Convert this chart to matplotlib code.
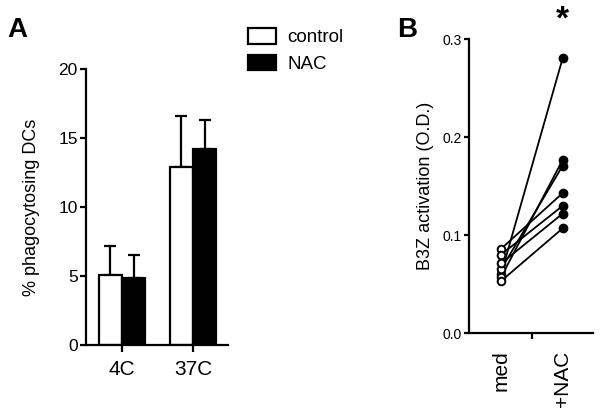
import matplotlib
matplotlib.use('Agg')
import matplotlib.pyplot as plt
from matplotlib.patches import Patch

plt.rcParams['font.family'] = ['Liberation Sans', 'DejaVu Sans']

# panel A
groups = ['4C', '37C']
control = [5.07, 12.92]
control_err = [2.1, 3.65]
nac = [4.83, 14.2]
nac_err = [1.72, 2.08]

# panel B
med = [0.060, 0.057, 0.065, 0.086, 0.080, 0.071, 0.053]
plus_nac = [0.281, 0.177, 0.171, 0.143, 0.130, 0.122, 0.107]
b_labels = ['med', '+NAC']

W, H = 602, 415
fig = plt.figure(figsize=(W / 100, H / 100), dpi=100)
fig.patch.set_facecolor('white')


def px_axes(left, top, right, bottom):
    return fig.add_axes([left / W, 1 - bottom / H, (right - left) / W, (bottom - top) / H])


def style(ax, lw=1.6):
    for s in ['top', 'right']:
        ax.spines[s].set_visible(False)
    for s in ['left', 'bottom']:
        ax.spines[s].set_linewidth(lw)
    ax.tick_params(width=lw, direction='out')


# ---- A ----
axA = px_axes(86, 69, 228, 345)
style(axA)
x = [0, 1]
w = 0.33
xc = [i - w / 2 for i in x]
xn = [i + w / 2 for i in x]
axA.errorbar(xc, control, yerr=[[0, 0], control_err], fmt='none', ecolor='black',
             elinewidth=1.6, capsize=4, capthick=1.6, zorder=1)
axA.errorbar(xn, nac, yerr=[[0, 0], nac_err], fmt='none', ecolor='black',
             elinewidth=1.6, capsize=4, capthick=1.6, zorder=1)
axA.bar(xc, control, width=w, color='white', edgecolor='black', linewidth=1.6, zorder=2)
axA.bar(xn, nac, width=w, color='black', edgecolor='black', linewidth=1.6, zorder=2)
axA.set_xlim(-0.507, 1.493)
axA.set_ylim(0, 20)
axA.set_yticks([0, 5, 10, 15, 20])
axA.set_xticks(x)
axA.set_xticklabels(groups, fontsize=15)
axA.tick_params(axis='y', labelsize=12.5, length=4, pad=2)
axA.tick_params(axis='x', length=5, pad=6)
axA.set_ylabel('% phagocytosing DCs', fontsize=13, labelpad=13)

handles = [Patch(facecolor='white', edgecolor='black', linewidth=1.6, label='control'),
           Patch(facecolor='black', edgecolor='black', linewidth=1.6, label='NAC')]
fig.legend(handles=handles, loc='upper left', bbox_to_anchor=(248 / W, 1 - 28 / H),
           frameon=False, fontsize=13.5, handlelength=1.5, handleheight=0.9,
           handletextpad=0.6, labelspacing=0.45, borderpad=0, borderaxespad=0)

fig.text(7 / W, 1 - 30 / H, 'A', fontsize=20, fontweight='bold', va='center', ha='left')

# ---- B ----
axB = px_axes(469, 39.3, 593, 333)
style(axB)
for m, n in zip(med, plus_nac):
    axB.plot([0, 1], [m, n], color='black', linewidth=1.3, zorder=1)
axB.plot([0] * len(med), med, 'o', markerfacecolor='white', markeredgecolor='black',
         markeredgewidth=1.4, markersize=5.5, linestyle='none', zorder=3)
axB.plot([1] * len(plus_nac), plus_nac, 'o', color='black', markersize=6,
         linestyle='none', zorder=3)
axB.set_xlim(-0.519, 1.49)
axB.set_ylim(0, 0.3)
axB.set_yticks([0.0, 0.1, 0.2, 0.3])
axB.set_yticklabels(['0.0', '0.1', '0.2', '0.3'])
axB.tick_params(axis='y', labelsize=10, length=3.5, pad=1.5)
axB.set_xticks([0.5])
axB.set_xticklabels([''])
axB.tick_params(axis='x', length=4)
for i, lab in enumerate(b_labels):
    axB.text(i, -0.06, lab, rotation=90, fontsize=15, ha='center', va='top',
             transform=axB.get_xaxis_transform())
axB.set_ylabel('B3Z activation (O.D.)', fontsize=13, labelpad=6)
fig.text(562 / W, 1 - 20 / H, '*', fontsize=24, fontweight='bold', ha='center', va='center')

fig.text(397 / W, 1 - 30 / H, 'B', fontsize=20, fontweight='bold', va='center', ha='left')

fig.savefig('out.png', dpi=100, facecolor='white')
